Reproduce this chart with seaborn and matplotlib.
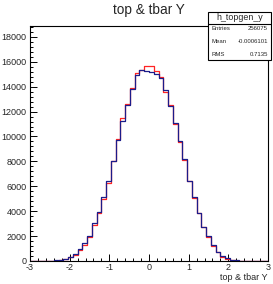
import numpy as np
import pandas as pd
import seaborn as sns
import matplotlib.pyplot as plt
from matplotlib.patches import Rectangle
from matplotlib.ticker import MultipleLocator

sns.set_theme(style="ticks")
plt.rcParams['font.family'] = ['Liberation Sans', 'DejaVu Sans']

# 50 bins from -3 to 3
edges = np.linspace(-3, 3, 51)
centers = (edges[:-1] + edges[1:]) / 2

# blue histogram (drawn on top)
blue_counts = [0, 0, 0, 10, 25, 60, 100, 190, 350, 560,
               940, 1430, 2040, 3040, 3900, 5100, 6400, 8000, 9700, 11250,
               12540, 13800, 14950, 15300, 15270, 15170, 15030, 14690, 13750, 12460,
               11090, 9670, 8180, 6460, 5170, 3890, 2760, 2010, 1290, 750,
               400, 215, 100, 50, 20, 10, 0, 0, 0, 0]

# red histogram
red_counts = [0, 0, 0, 5, 15, 30, 80, 150, 300, 480,
              880, 1300, 1950, 2900, 3850, 5000, 6300, 8050, 9800, 11450,
              12600, 13900, 15100, 15350, 15680, 15680, 15270, 14750, 13600, 12500,
              11000, 9550, 8100, 6400, 5050, 3820, 2700, 1950, 1220, 700,
              360, 180, 80, 35, 10, 5, 0, 0, 0, 0]

title = "top & tbar Y"
xlabel = "top & tbar Y"
stats_name = "h_topgen_y"
stats_rows = [("Entries", "256075"), ("Mean", "-0.0006101"), ("RMS", "0.7135")]

df = pd.DataFrame({"y": centers, "red": red_counts, "blue": blue_counts})
bin_list = edges.tolist()

W, H = 273, 284
fig = plt.figure(figsize=(W / 100, H / 100), dpi=100)
fig.patch.set_facecolor("white")
ax = fig.add_axes([30 / W, 1 - 261 / H, 238 / W, 235 / H])
ax.set_facecolor("white")

sns.histplot(data=df, x="y", weights="red", bins=bin_list, element="step",
             fill=False, color="#ff2424", linewidth=0.9, ax=ax)
sns.histplot(data=df, x="y", weights="blue", bins=bin_list, element="step",
             fill=False, color="#1c1c8a", linewidth=0.9, ax=ax)

ax.set_xlim(-3, 3)
ax.set_ylim(0, 18870)
ax.set_ylabel("")
ax.set_xlabel(xlabel, loc="right", fontsize=6.5, labelpad=1)

ax.xaxis.set_major_locator(MultipleLocator(1))
ax.xaxis.set_minor_locator(MultipleLocator(0.2))
ax.yaxis.set_major_locator(MultipleLocator(2000))
ax.yaxis.set_minor_locator(MultipleLocator(400))
ax.tick_params(which="both", direction="in", top=False, right=False,
               labelsize=6.5, color="black", width=0.7)
ax.tick_params(axis="x", pad=1.5)
ax.tick_params(axis="y", pad=2.3)
ax.tick_params(which="major", length=5)
ax.tick_params(which="minor", length=2.5)
ax.xaxis.set_major_formatter(plt.FuncFormatter(lambda v, p: f"{int(round(v))}"))
ax.yaxis.set_major_formatter(plt.FuncFormatter(lambda v, p: f"{int(round(v))}"))
for s in ax.spines.values():
    s.set_color("black")
    s.set_linewidth(0.8)
ax.grid(False)

fig.text(149 / W, 1 - 10 / H, title, ha="center", va="center", fontsize=9.8)

# stats box
bx0, by0, bx1, by1 = 208, 12, 271, 60
fig.patches.append(Rectangle((bx0 / W, 1 - by1 / H), (bx1 - bx0) / W, (by1 - by0) / H,
                             transform=fig.transFigure, facecolor="white",
                             edgecolor="black", linewidth=0.8, zorder=5))
fig.add_artist(plt.Line2D([bx0 / W, bx1 / W], [1 - 24 / H, 1 - 24 / H],
                          transform=fig.transFigure, color="black", linewidth=0.8, zorder=6))
fig.text((bx0 + bx1) / 2 / W, 1 - 18 / H, stats_name, ha="center", va="center",
         fontsize=6.4, zorder=7)
for i, (k, v) in enumerate(stats_rows):
    yy = 1 - (29 + 12.5 * i) / H
    fig.text((bx0 + 3) / W, yy, k, ha="left", va="center", fontsize=4.3, zorder=7)
    fig.text((bx1 - 3) / W, yy, v, ha="right", va="center", fontsize=4.3, zorder=7)

fig.savefig("out.png", dpi=100)
